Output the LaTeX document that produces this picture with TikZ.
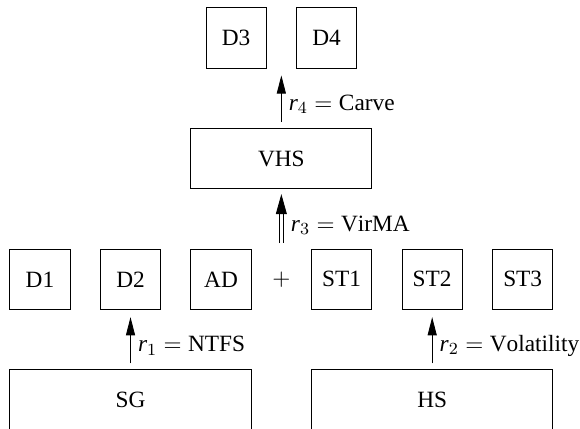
\documentclass[tikz,border=0pt]{standalone}
\usepackage{fontspec}
\setmainfont{Liberation Serif}
\usetikzlibrary{arrows.meta, positioning}

\begin{document}
\begin{tikzpicture}[font=\fontsize{11}{13}\selectfont,
box/.style={draw, minimum width=1cm, minimum height=1cm, inner sep=0pt},
wide/.style={box, minimum width=4cm}]
\useasboundingbox (-0.663,-0.48) rectangle (8.95,6.63);

\node (SG) [wide] at (1.5,0) {SG};
\node (HS) [wide] at (6.5,0) {HS};
\node (D1) [box] at (0,2) {D1};
\node (D2) [box] at (1.5,2) {D2};
\node (AD) [box] at (3,2) {AD};
\node (plus) at (4,2) {$+$};
\node (ST1) [box] at (5,2) {ST1};
\node (ST2) [box] at (6.5,2) {ST2};
\node (ST3) [box] at (8,2) {ST3};
\node (VHS) [box, minimum width=3cm] at (4,4) {VHS};
\node (D3) [box] at (3.25,6) {D3};
\node (D4) [box] at (4.75,6) {D4};
\coordinate (low) at (4,2.5);
\coordinate (high) at (4,5.5);

%Recovery steps:
\path [-{Triangle[length=3mm,width=1.5mm]}, shorten <=1mm, shorten >=1.2mm]
(SG) edge node[right, pos=0.4] {$\mathit{r}_1 = \mathrm{NTFS}$} (D2)
(HS) edge node[right, pos=0.4] {$\mathit{r}_2 = \mathrm{Volatility}$} (ST2)
(low) edge [double, double distance=1.5pt, -{Triangle[length=3.3mm,width=1.8mm]}, shorten >=0.8mm] node[right, pos=0.4, xshift=1pt] {$\mathit{r}_3 = \mathrm{VirMA}$} (VHS)
(VHS) edge node[right, pos=0.4] {$\mathit{r}_4 = \mathrm{Carve}$} (high)
;

\end{tikzpicture}
\end{document}
